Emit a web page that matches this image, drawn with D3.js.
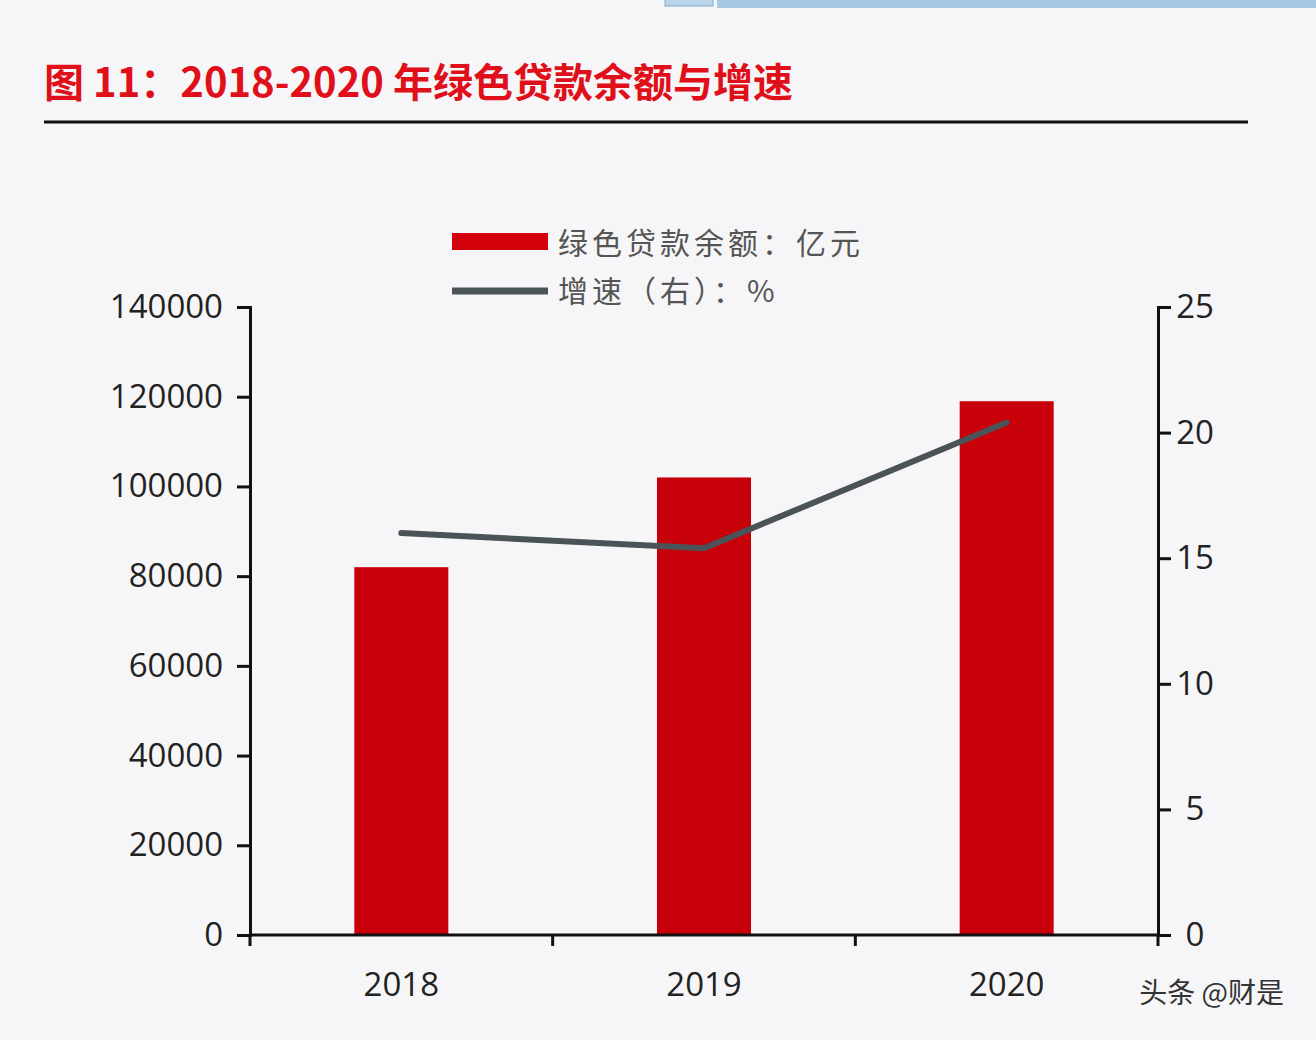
<!DOCTYPE html>
<html><head><meta charset="utf-8">
<script src="https://cdn.jsdelivr.net/npm/d3@7"></script>
<style>body{margin:0;background:#f6f6f8;}svg{display:block}</style>
</head><body>
<svg id="c" width="1316" height="1040"></svg>
<script>
const categories = ["2018","2019","2020"];
const loanBalance = [82000, 102000, 119000];
const growthRate = [16.0, 15.4, 20.4];
const leftTicks = [0,20000,40000,60000,80000,100000,120000,140000];
const rightTicks = [0,5,10,15,20,25];

const svg = d3.select("#c");
svg.append("rect").attr("width",1316).attr("height",1040).attr("fill","#f6f6f8");
svg.append("rect").attr("x",665).attr("y",-2).attr("width",48).attr("height",8).attr("fill","#b9d3e8").attr("stroke","#7fa9cc");
svg.append("rect").attr("x",717).attr("y",-2).attr("width",600).attr("height",10).attr("fill","#a9c8e2");

svg.append("text").attr("x",44).attr("y",97).attr("fill","#e0101a")
  .attr("font-family","'Noto Sans CJK SC', 'Liberation Serif', serif").attr("font-weight","bold").attr("font-size",40)
  .text("图 11：2018-2020 年绿色贷款余额与增速");
svg.append("line").attr("x1",44).attr("x2",1248).attr("y1",122).attr("y2",122).attr("stroke","#111").attr("stroke-width",3);

const x = d3.scaleBand().domain(categories).range([250,1158]);
const xc = d3.scalePoint().domain(categories).range([250,1158]).padding(0.5);
const yL = d3.scaleLinear().domain([0,140000]).range([935,307]);
const yR = d3.scaleLinear().domain([0,25]).range([935,307]);
const font = "'Open Sans','DejaVu Sans',sans-serif";

svg.selectAll(".bar").data(loanBalance).join("rect")
  .attr("x",(d,i)=>xc(categories[i])-47).attr("width",94)
  .attr("y",d=>yL(d)).attr("height",d=>935-yL(d)).attr("fill","#c8000a");

const ga = svg.append("g").attr("transform","translate(250,0)")
  .call(d3.axisLeft(yL).tickValues(leftTicks).tickSize(13).tickPadding(14).tickFormat(d3.format("d")));
const gr = svg.append("g").attr("transform","translate(1158,0)")
  .call(d3.axisRight(yR).tickValues(rightTicks).tickSize(13).tickPadding(28));
const gx = svg.append("g").attr("transform","translate(0,935)")
  .call(d3.axisBottom(x).tickSize(0).tickPadding(38));
[ga,gr,gx].forEach(g=>{
  g.selectAll("path").attr("stroke","#111").attr("stroke-width",3);
  g.selectAll("line").attr("stroke","#111").attr("stroke-width",3);
  g.selectAll("text").attr("font-family",font).attr("font-size",33).attr("fill","#222");
});
gr.selectAll("text").attr("text-anchor","middle").attr("dx",-4);
gx.select(".domain").attr("d","M250,0H1158");
svg.selectAll(".xt").data([0,1,2,3]).join("line")
  .attr("x1",i=>250+i*908/3).attr("x2",i=>250+i*908/3).attr("y1",935).attr("y2",946)
  .attr("stroke","#111").attr("stroke-width",3);

const line = d3.line().x((d,i)=>xc(categories[i])).y(d=>yR(d));
svg.append("path").datum(growthRate).attr("d",line).attr("fill","none")
  .attr("stroke","#4a5358").attr("stroke-width",6).attr("stroke-linecap","round");

svg.append("rect").attr("x",452).attr("y",233).attr("width",96).attr("height",17).attr("fill","#d4000c");
svg.append("text").attr("x",558).attr("y",254).attr("font-family","'Noto Sans CJK SC'").attr("font-size",30).attr("fill","#555").attr("letter-spacing",4).text("绿色贷款余额：亿元");
svg.append("line").attr("x1",452).attr("x2",548).attr("y1",291).attr("y2",291).attr("stroke","#4a5358").attr("stroke-width",7);
svg.append("text").attr("x",558).attr("y",302).attr("font-family","'Noto Sans CJK SC'").attr("font-size",30).attr("fill","#555").attr("letter-spacing",4).text("增速（右）：%");

svg.append("text").attr("x",1284).attr("y",1003).attr("text-anchor","end")
  .attr("font-family","'Noto Sans CJK SC'").attr("font-size",28).attr("fill","#333").text("头条 @财是");
</script>
</body></html>
